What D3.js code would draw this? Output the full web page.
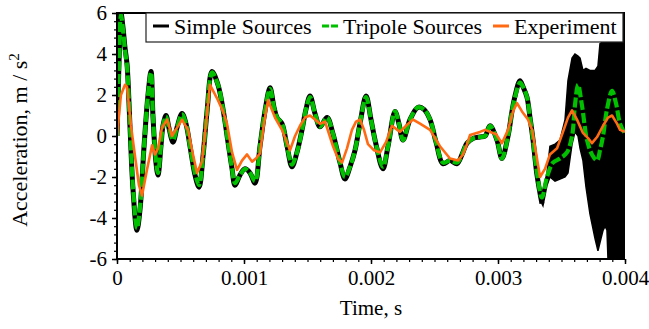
<!DOCTYPE html>
<html>
<head>
<meta charset="utf-8">
<script src="https://cdn.jsdelivr.net/npm/d3@7"></script>
<style>
  html, body { margin: 0; padding: 0; background: #fff; }
  svg { display: block; }
  text { font-family: "Liberation Serif", "Times New Roman", serif; fill: #000; }
</style>
</head>
<body>
<svg id="chart" width="649" height="329"></svg>
<script>
// Time grid (ms) shared by the two simulated traces
const simTimeMs = [0,0.016,0.031,0.047,0.063,0.079,0.102,0.126,0.157,0.181,0.213,0.244,0.268,0.283,0.307,0.323,0.346,0.362,0.386,0.409,0.441,0.472,0.512,0.543,0.575,0.614,0.646,0.677,0.709,0.748,0.795,0.835,0.874,0.906,0.929,0.969,1.008,1.047,1.087,1.126,1.165,1.205,1.236,1.260,1.299,1.339,1.378,1.417,1.457,1.488,1.520,1.559,1.598,1.654,1.701,1.756,1.795,1.835,1.874,1.913,1.961,2.000,2.039,2.094,2.134,2.189,2.220,2.252,2.307,2.370,2.417,2.465,2.512,2.567,2.622,2.677,2.717,2.756,2.811,2.858,2.898,2.937,2.992,3.031,3.079,3.110,3.134,3.173,3.197,3.228,3.252,3.276,3.307,3.346,3.386,3.433,3.488,3.543,3.583,3.606,3.630,3.661,3.701,3.740,3.780,3.803,3.827,3.858,3.898,3.929,3.961,4.000];

// Tripole sources, acceleration (m/s^2)
const tripoleValues = [0,3.5,5.9,5.2,4.2,3.4,0.5,-2.5,-4.5,-3.5,-0.5,2.0,3.1,1.0,-1.2,-1.8,-0.5,0.5,0.95,0.4,-0.2,0.4,1.05,0.6,-0.5,-1.8,-2.4,-1.0,1.2,3.1,2.5,1.3,-0.3,-1.6,-2.3,-1.9,-1.6,-1.8,-2.2,-0.5,1.2,2.3,1.4,0.9,0.6,-0.5,-1.4,-0.8,0.3,1.3,1.9,1.1,0.45,0.9,0.1,-1.3,-2.0,-1.5,-0.7,0.6,1.9,0.8,-0.4,-1.5,-0.5,1.2,0.6,-0.2,0.8,1.4,1.3,0.8,-0.3,-1.3,-1.2,-1.3,-0.9,-0.35,-0.1,-0.05,0.0,0.5,-0.2,-1.1,0.0,1.2,1.9,2.6,2.4,1.9,0.9,-0.2,-1.8,-3.0,-2.0,-1.3,-1.1,-0.8,0.0,1.5,2.5,1.5,-0.2,-0.9,-1.2,-0.7,0.0,1.3,2.2,1.6,0.6,0.1];

// Simple sources, acceleration on the same grid (up to 3.346 ms)
const simpleValues = [0,3.6,6.0,5.3,4.3,3.5,0.5,-2.6,-4.6,-3.6,-0.5,2.0,3.15,1.0,-1.3,-1.9,-0.5,0.5,1.0,0.4,-0.3,0.4,1.1,0.6,-0.5,-1.9,-2.5,-1.0,1.2,3.15,2.5,1.3,-0.3,-1.6,-2.4,-1.9,-1.6,-1.8,-2.3,-0.5,1.2,2.35,1.4,0.9,0.6,-0.5,-1.5,-0.8,0.3,1.3,1.95,1.1,0.45,0.9,0.1,-1.3,-2.1,-1.5,-0.7,0.6,1.95,0.8,-0.4,-1.6,-0.5,1.2,0.6,-0.2,0.8,1.4,1.3,0.8,-0.3,-1.35,-1.2,-1.35,-0.9,-0.35,-0.1,-0.05,0.0,0.5,-0.2,-1.1,0.0,1.2,1.95,2.7,2.4,1.9,0.9,-0.2,-1.9,-3.3];

// Simple sources after 3.35 ms: high-frequency oscillation, upper/lower envelope
const simpleEnvTimeMs = [3.346,3.354,3.386,3.409,3.449,3.488,3.528,3.551,3.583,3.606,3.630,3.646,3.669,3.693,3.724,3.764,3.787,3.803,3.827,3.843,3.858,3.866,4.000];
const simpleEnvUpper  = [-3.0,-2.6,-1.8,-0.5,-0.4,-0.2,0.8,2.7,3.8,4.0,3.9,3.8,3.2,3.3,3.2,3.2,3.4,4.5,4.6,6,6,6,6];
const simpleEnvLower  = [-3.3,-3.4,-2.4,-2.0,-2.2,-2.1,-2.0,-1.8,-0.4,0.2,0.0,-0.6,-1.2,-2.5,-3.8,-5.0,-5.6,-5.2,-4.6,-4.4,-4.6,-6,-6];

// Experiment, acceleration (m/s^2)
const expTimeMs = [0,0.031,0.063,0.079,0.110,0.142,0.173,0.197,0.236,0.276,0.299,0.323,0.354,0.394,0.433,0.472,0.512,0.559,0.598,0.630,0.669,0.701,0.732,0.795,0.835,0.866,0.906,0.945,0.984,1.024,1.063,1.094,1.126,1.157,1.189,1.244,1.299,1.362,1.402,1.441,1.480,1.520,1.559,1.598,1.638,1.701,1.740,1.772,1.811,1.850,1.882,1.913,1.945,1.976,2.024,2.071,2.118,2.165,2.228,2.276,2.331,2.386,2.465,2.543,2.622,2.685,2.724,2.756,2.780,2.858,2.898,2.937,2.984,3.031,3.079,3.118,3.150,3.189,3.236,3.268,3.299,3.331,3.370,3.409,3.465,3.512,3.551,3.583,3.622,3.669,3.709,3.740,3.780,3.827,3.866,3.898,3.937,3.961,4.000];
const expValues = [0,2.0,2.5,2.4,0.5,-1.0,-2.4,-2.9,-1.65,-0.45,-0.9,-0.6,0.4,0.8,0.0,0.4,0.8,0.3,-0.9,-1.8,-1.25,0.6,2.5,1.75,1.2,0.6,-0.8,-1.65,-1.2,-0.9,-1.25,-1.1,-0.85,0.6,1.75,0.9,0.3,-0.7,0.0,0.5,0.9,1.0,0.8,0.6,0.7,-0.5,-1.1,-1.3,-0.6,0.3,0.7,0.8,0.3,-0.4,-0.7,-0.8,-0.3,0.5,0.2,0.5,0.8,0.6,0.3,-0.5,-1.1,-1.2,-0.9,-0.4,0.05,0.2,0.3,0.2,0.1,-0.35,0.3,1.2,1.6,1.2,0.8,0.3,-0.8,-2.0,-1.6,-0.9,-0.6,0.2,0.9,1.25,0.8,0.15,-0.1,-0.35,-0.05,0.5,0.9,1.0,0.6,0.3,0.2];

// Axis ticks and legend labels
const xTickValues = [0, 0.001, 0.002, 0.003, 0.004];
const xTickLabels = ["0", "0.001", "0.002", "0.003", "0.004"];
const yTickValues = [6, 4, 2, 0, -2, -4, -6];
const yTickLabels = ["6", "4", "2", "0", "-2", "-4", "-6"];
const seriesNames = ["Simple Sources", "Tripole Sources", "Experiment"];
const seriesColors = ["#000000", "#00c000", "#ff6a12"];

const svg = d3.select("#chart");
const plotLeft = 117, plotRight = 625, plotTop = 13, plotBottom = 259;

const x = d3.scaleLinear().domain([0, 0.004]).range([plotLeft, plotRight]);
const y = d3.scaleLinear().domain([-6, 6]).range([plotBottom, plotTop]);

const ms = v => v / 1000;
const zip = (t, v) => t.map((ti, i) => ({ t: ms(ti), v: v[i] }));

const simple = zip(simTimeMs.slice(0, simpleValues.length), simpleValues);
const tripole = zip(simTimeMs, tripoleValues);
const experiment = zip(expTimeMs, expValues);
const envelope = simpleEnvTimeMs.map((ti, i) => ({ t: ms(ti), hi: simpleEnvUpper[i], lo: simpleEnvLower[i] }));

svg.append("defs").append("clipPath").attr("id", "plotClip")
  .append("rect").attr("x", plotLeft).attr("y", plotTop)
  .attr("width", plotRight - plotLeft).attr("height", plotBottom - plotTop);

const plot = svg.append("g").attr("clip-path", "url(#plotClip)");

const smooth = d3.line().x(d => x(d.t)).y(d => y(d.v)).curve(d3.curveCatmullRom.alpha(0.5));
const straight = d3.line().x(d => x(d.t)).y(d => y(d.v));

// Simple sources: smooth part, then the oscillating envelope
plot.append("path").datum(simple).attr("d", smooth)
  .attr("fill", "none").attr("stroke", seriesColors[0]).attr("stroke-width", 5).attr("stroke-linejoin", "round");
plot.append("path").datum(envelope)
  .attr("d", d3.area().x(d => x(d.t)).y0(d => y(d.lo)).y1(d => y(d.hi)))
  .attr("fill", seriesColors[0]).attr("stroke", seriesColors[0]).attr("stroke-width", 1.5);

// Tripole sources (dashed)
plot.append("path").datum(tripole).attr("d", smooth)
  .attr("fill", "none").attr("stroke", seriesColors[1]).attr("stroke-width", 4.2)
  .attr("stroke-dasharray", "10,3").attr("stroke-linejoin", "round");

// Experiment
plot.append("path").datum(experiment).attr("d", straight)
  .attr("fill", "none").attr("stroke", seriesColors[2]).attr("stroke-width", 2.6).attr("stroke-linejoin", "round");

// Axes
const xMinor = d3.range(0, 41).map(i => i * 0.0001);
const yMinor = d3.range(0, 31).map(i => -6 + i * 0.4);

svg.append("g").attr("transform", `translate(0,${plotBottom})`)
  .call(d3.axisBottom(x).tickValues(xMinor).tickSize(3).tickFormat(""))
  .call(g => g.select(".domain").remove())
  .call(g => g.selectAll("line").attr("stroke-width", 1.2));
svg.append("g").attr("transform", `translate(${plotLeft},0)`)
  .call(d3.axisLeft(y).tickValues(yMinor).tickSize(3).tickFormat(""))
  .call(g => g.select(".domain").remove())
  .call(g => g.selectAll("line").attr("stroke-width", 1.2));

svg.append("g").attr("transform", `translate(0,${plotBottom})`)
  .call(d3.axisBottom(x).tickValues(xTickValues).tickSize(5).tickPadding(6)
    .tickFormat((d, i) => xTickLabels[i]))
  .call(g => g.select(".domain").remove())
  .call(g => g.selectAll("line").attr("stroke-width", 1.5))
  .call(g => g.selectAll("text").style("font-size", "21px").attr("fill", "#000"));

svg.append("g").attr("transform", `translate(${plotLeft},0)`)
  .call(d3.axisLeft(y).tickValues(yTickValues).tickSize(5).tickPadding(5)
    .tickFormat((d, i) => yTickLabels[i]))
  .call(g => g.select(".domain").remove())
  .call(g => g.selectAll("line").attr("stroke-width", 1.5))
  .call(g => g.selectAll("text").style("font-size", "21px").attr("fill", "#000"));

// Frame lines: left, bottom, top
svg.append("path")
  .attr("d", `M${plotRight},${plotTop}H${plotLeft}V${plotBottom}H${plotRight}`)
  .attr("fill", "none").attr("stroke", "#000").attr("stroke-width", 2);

// Axis titles
svg.append("text").attr("x", (plotLeft + plotRight) / 2).attr("y", 315)
  .attr("text-anchor", "middle").style("font-size", "21px").text("Time, s");

const yTitle = svg.append("text")
  .attr("transform", "translate(27,140) rotate(-90)")
  .attr("text-anchor", "middle").style("font-size", "22px");
yTitle.append("tspan").text("Acceleration, m / s");
yTitle.append("tspan").attr("dy", -8).style("font-size", "15px").text("2");

// Legend
const legend = svg.append("g");
legend.append("rect").attr("x", 146).attr("y", 13).attr("width", 477).attr("height", 29)
  .attr("fill", "#fff").attr("stroke", "#222").attr("stroke-width", 1.2);
const legendItems = [
  { x: 153, name: seriesNames[0], color: seriesColors[0], dash: null },
  { x: 322, name: seriesNames[1], color: seriesColors[1], dash: "7,2" },
  { x: 493, name: seriesNames[2], color: seriesColors[2], dash: null }
];
legendItems.forEach(it => {
  legend.append("line").attr("x1", it.x).attr("x2", it.x + 16).attr("y1", 26).attr("y2", 26)
    .attr("stroke", it.color).attr("stroke-width", 3).attr("stroke-dasharray", it.dash);
  legend.append("text").attr("x", it.x + 21).attr("y", 34).style("font-size", "22px").text(it.name);
});
</script>
</body>
</html>
